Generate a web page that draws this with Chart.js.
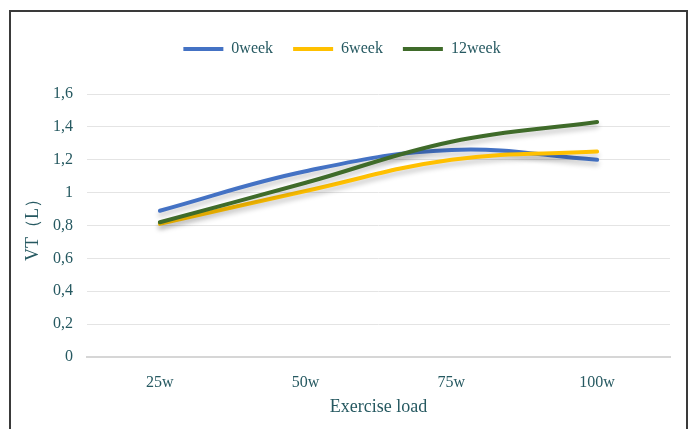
<!DOCTYPE html>
<html>
<head>
<meta charset="utf-8">
<script src="https://cdn.jsdelivr.net/npm/chart.js@4.4.1/dist/chart.umd.min.js"></script>
<style>
    body { margin: 0; background: #fff; }
    #frame {
        position: absolute; left: 9px; top: 10px; width: 675px; height: 440px;
        border: 2px solid #3a3a3a; border-bottom: none;
    }
    #wrap { position: absolute; left: 0; top: 0; width: 694px; height: 429px; }
</style>
</head>
<body>
<div id="frame"></div>
<div id="wrap"><canvas id="vtChart" width="694" height="429"></canvas></div>
<script>
const loads = ['25w', '50w', '75w', '100w'];
const week0 = [0.89, 1.13, 1.26, 1.20];
const week6 = [0.81, 1.01, 1.20, 1.25];
const week12 = [0.82, 1.06, 1.31, 1.43];
const yTicks = [0, 0.2, 0.4, 0.6, 0.8, 1, 1.2, 1.4, 1.6];

const textColor = '#265961';
const serif = '"Liberation Serif", "Times New Roman", serif';

// soft drop shadow under each line, like the office chart
const shadowPlugin = {
    id: 'lineShadow',
    beforeDatasetDraw(chart) {
        const ctx = chart.ctx;
        ctx.save();
        ctx.shadowColor = 'rgba(0, 0, 0, 0.22)';
        ctx.shadowBlur = 5;
        ctx.shadowOffsetY = 4;
    },
    afterDatasetDraw(chart) {
        chart.ctx.restore();
    }
};

// legend has no afterFit option, so patch its fit to push the plot down
const legendHeight = {
    id: 'legendHeight',
    beforeLayout(chart) {
        const legend = chart.legend;
        if (!legend || legend._patched) return;
        const fit = legend.fit;
        legend.fit = function () {
            fit.call(this);
            this.height = 73;
        };
        legend._patched = true;
    }
};

function makeLine(label, data, color, order) {
    return {
        label: label,
        data: data,
        borderColor: color,
        backgroundColor: color,
        borderWidth: 4,
        borderCapStyle: 'round',
        tension: 0.4,
        pointRadius: 0,
        pointHoverRadius: 0,
        fill: false,
        order: order
    };
}

new Chart(document.getElementById('vtChart'), {
    type: 'line',
    data: {
        labels: loads,
        datasets: [
            makeLine('0week', week0, '#4472C4', 2),
            makeLine('6week', week6, '#FFC000', 1),
            makeLine('12week', week12, '#3F6B2A', 0)
        ]
    },
    plugins: [shadowPlugin, legendHeight],
    options: {
        responsive: false,
        animation: false,
        layout: { padding: { top: 21, left: 14, right: 24, bottom: 11 } },
        plugins: {
            tooltip: { enabled: false },
            legend: {
                position: 'top',
                onClick: null,
                labels: {
                    usePointStyle: true,
                    pointStyle: 'line',
                    pointStyleWidth: 40,
                    boxHeight: 16,
                    padding: 20,
                    color: textColor,
                    font: { family: serif, size: 16 },
                    sort: (a, b) => a.datasetIndex - b.datasetIndex
                }
            }
        },
        scales: {
            x: {
                offset: true,
                afterFit(scale) { scale.height = 61; },
                grid: { display: false },
                border: { display: true, color: '#d6d6d6', width: 2 },
                ticks: { color: textColor, font: { family: serif, size: 16 }, padding: 8 },
                title: {
                    display: true,
                    text: 'Exercise load',
                    color: textColor,
                    font: { family: serif, size: 18 },
                    padding: { top: 2, bottom: 0 }
                }
            },
            y: {
                min: 0,
                max: 1.6,
                afterFit(scale) { scale.width = 73; },
                afterBuildTicks(scale) { scale.ticks = yTicks.map(v => ({ value: v })); },
                grid: { color: '#e4e4e4', lineWidth: 1, drawTicks: false },
                border: { display: false },
                ticks: {
                    color: textColor,
                    font: { family: serif, size: 16 },
                    padding: 14,
                    callback: v => String(Math.round(v * 10) / 10).replace('.', ',')
                },
                title: {
                    display: true,
                    text: 'VT（L）',
                    color: textColor,
                    font: { family: serif, size: 18 },
                    padding: { top: 8, bottom: 0 }
                }
            }
        }
    }
});
</script>
</body>
</html>
